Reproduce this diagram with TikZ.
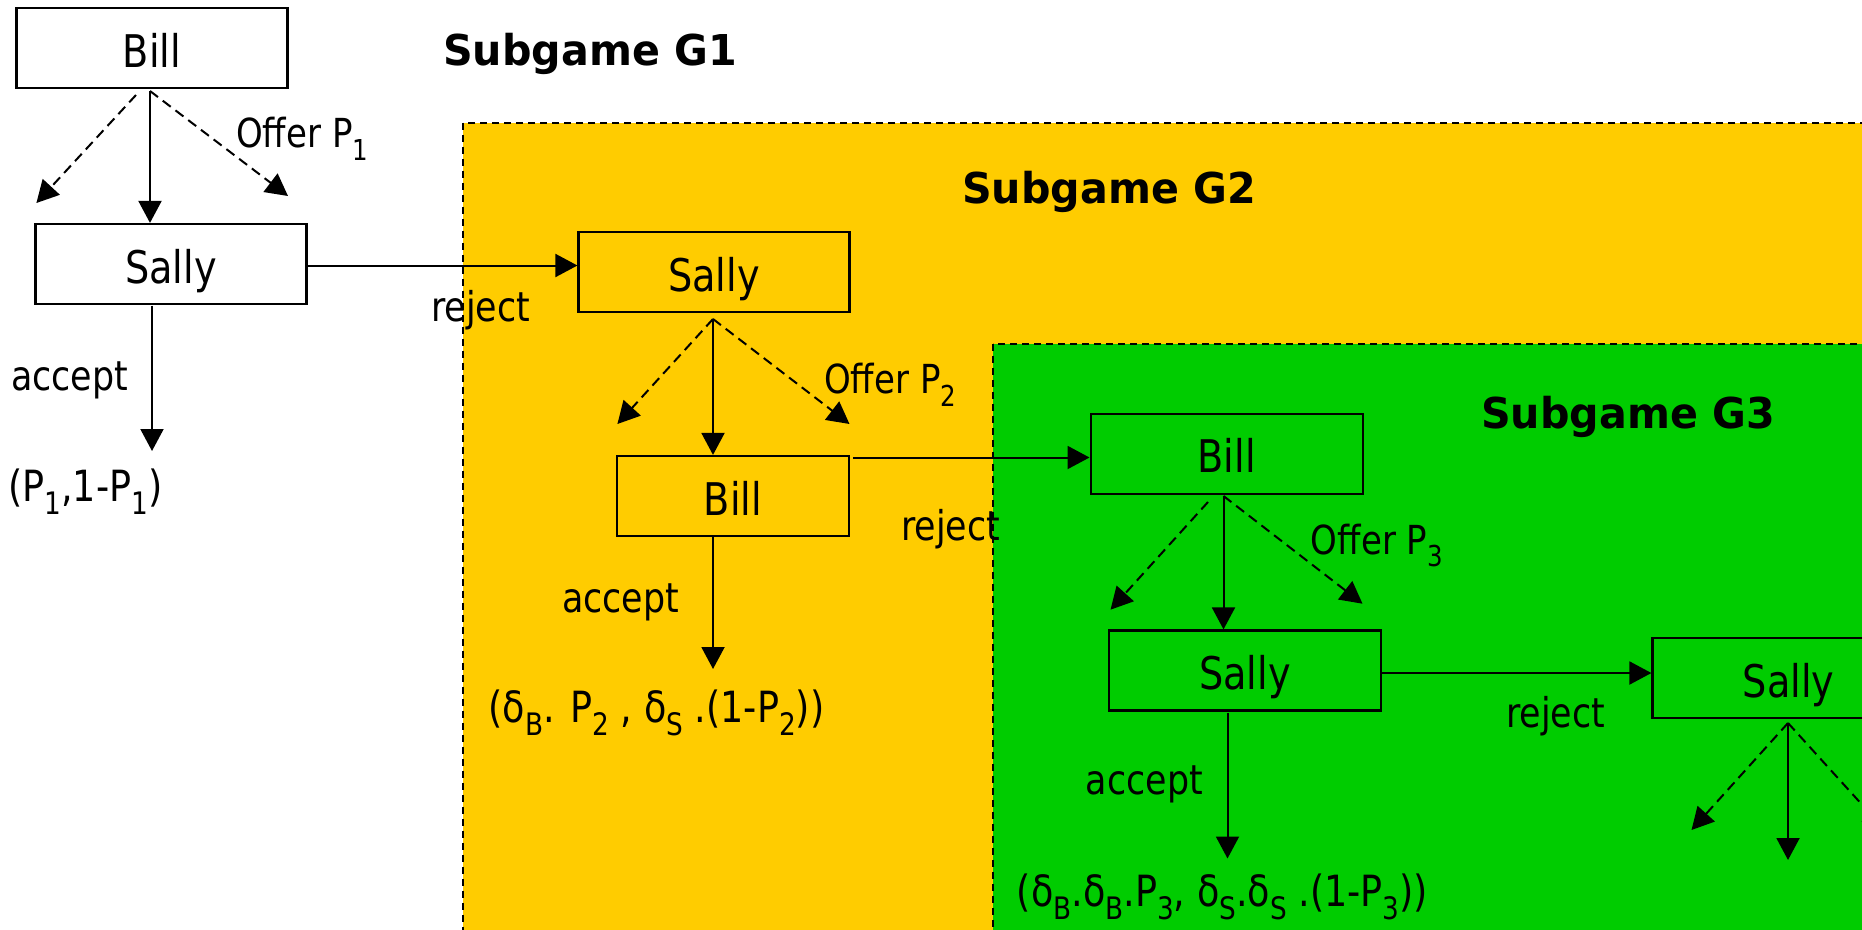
\documentclass[tikz,border=0pt]{standalone}
\usepackage{graphicx}
\usepackage{fontspec}
\setmainfont{DejaVu Sans}[FakeStretch=0.85]
\newfontfamily\titlefont{DejaVu Sans}[FakeStretch=0.97]
\usetikzlibrary{arrows.meta}
\definecolor{gold}{HTML}{FFCC00}
\definecolor{grn}{HTML}{00CC00}
\newcommand\lsub[1]{\raisebox{-0.32em}{\scalebox{0.72}{#1}}}
\newcommand\boxfont{\fontsize{45}{50}\selectfont}
\newcommand\offerfont{\fontsize{40}{44}\selectfont}
\newcommand\actfont{\fontsize{41}{46}\selectfont}
\newcommand\payfont{\fontsize{43}{48}\selectfont}
\newcommand\ttlfont{\titlefont\bfseries\fontsize{42.5}{48}\selectfont}
\tikzset{
  gbox/.style={draw, line width=2.2pt, minimum height=80pt, inner sep=0pt,
    text height=38pt, text depth=0pt, font=\boxfont},
  sol/.style={line width=2pt, -{Triangle[length=22pt,width=23pt]}},
  dsh/.style={sol, dash pattern=on 10pt off 6pt},
  txt/.style={anchor=base west, inner sep=0pt},
  region/.style={draw, line width=2pt, dash pattern=on 7pt off 5pt}
}
\begin{document}
\begin{tikzpicture}[x=1pt,y=-1pt]
\useasboundingbox (0,0) rectangle (1862,929);
\clip (0,0) rectangle (1862,929);
\fill[white] (0,0) rectangle (1862,929);
% subgame regions
\draw[region, fill=gold] (463.4,122.7) rectangle (1950,1000);
\draw[region, fill=grn] (992.5,343.5) rectangle (1950,1000);

% decision nodes
\node[gbox, minimum width=271pt] (bill1) at (152,48) {Bill};
\node[gbox, minimum width=271pt] (sally1) at (171,264) {Sally};
\node[gbox, minimum width=271pt] (sally2) at (714,272) {Sally};
\node[gbox, minimum width=232.5pt] (bill2) at (733,496) {Bill};
\node[gbox, minimum width=272pt] (bill3) at (1226.6,453.6) {Bill};
\node[gbox, minimum width=272pt] (sally3) at (1245,670.5) {Sally};
\node[gbox, minimum width=272pt] (sally4) at (1788.5,678) {Sally};

% titles
\node[txt, font=\ttlfont] (g1) at (443,65) {Subgame G1};
\node[txt, font=\ttlfont] (g2) at (962,203) {Subgame G2};
\node[txt, font=\ttlfont] (g3) at (1481,428) {Subgame G3};

% offer labels
\node[txt, font=\offerfont] (of1) at (236,147.6) {Offer P\lsub{1}};
\node[txt, font=\offerfont] (of2) at (824,393.5) {Offer P\lsub{2}};
\node[txt, font=\offerfont] (of3) at (1310.7,554) {Offer P\lsub{3}};

% reject / accept labels
\node[txt, font=\actfont] (rj1) at (431,321.7) {reject};
\node[txt, font=\actfont] (rj2) at (901,540) {reject};
\node[txt, font=\actfont] (rj3) at (1506,727) {reject};
\node[txt, font=\actfont] (ac1) at (11,390) {accept};
\node[txt, font=\actfont] (ac2) at (562,612) {accept};
\node[txt, font=\actfont] (ac3) at (1085.7,794.5) {accept};

% payoffs
\node[txt, font=\payfont] (pay1) at (8,501) {(P\lsub{1},1-P\lsub{1})};
\node[txt, font=\payfont] (pay2) at (488.5,722) {(δ\lsub{B}. P\lsub{2} , δ\lsub{S} .(1-P\lsub{2}))};
\node[txt, font=\payfont] (pay3) at (1016.6,906) {(δ\lsub{B}.δ\lsub{B}.P\lsub{3}, δ\lsub{S}.δ\lsub{S} .(1-P\lsub{3}))};

% branch origins and free ends
\coordinate (o1) at (150,91);
\coordinate (o1l) at (136,95);
\coordinate (l1) at (36.4,203);
\coordinate (r1) at (288,196);
\coordinate (o2) at (713,319);
\coordinate (l2) at (617.4,424);
\coordinate (r2) at (849.5,424);
\coordinate (o3) at (1223.5,496);
\coordinate (o3l) at (1208,502);
\coordinate (l3) at (1110.5,609.7);
\coordinate (r3) at (1362.5,603.7);
\coordinate (o4) at (1788,723);
\coordinate (l4) at (1691.5,830);
\coordinate (r4) at (1885,830);
\coordinate (d4) at (1788,860);
\coordinate (b2r) at (853,457.5);
\coordinate (s1r) at (306.4,265.5);
\coordinate (s3r) at (1381,673);
\coordinate (a1) at (152,305.5);
\coordinate (a1e) at (152,451);
\coordinate (a2) at (713,537);
\coordinate (a2e) at (713,669);
\coordinate (a3) at (1227.5,712.5);
\coordinate (a3e) at (1227.5,858.5);

% G1 branches
\draw[sol] (o1) -- (o1 |- sally1.north);
\draw[dsh] (o1l) -- (l1);
\draw[dsh] (o1) -- (r1);
\draw[sol] (s1r) -- (s1r -| sally2.west);
\draw[sol] (a1) -- (a1e);

% G2 branches
\draw[sol] (o2) -- (o2 |- bill2.north);
\draw[dsh] (o2) -- (l2);
\draw[dsh] (o2) -- (r2);
\draw[sol] (b2r) -- (b2r -| bill3.west);
\draw[sol] (a2) -- (a2e);

% G3 branches
\draw[sol] (o3) -- (o3 |- sally3.north);
\draw[dsh] (o3l) -- (l3);
\draw[dsh] (o3) -- (r3);
\draw[sol] (s3r) -- (s3r -| sally4.west);
\draw[sol] (a3) -- (a3e);

% next stage
\draw[sol] (o4) -- (d4);
\draw[dsh] (o4) -- (l4);
\draw[dsh] (o4) -- (r4);
\end{tikzpicture}
\end{document}
